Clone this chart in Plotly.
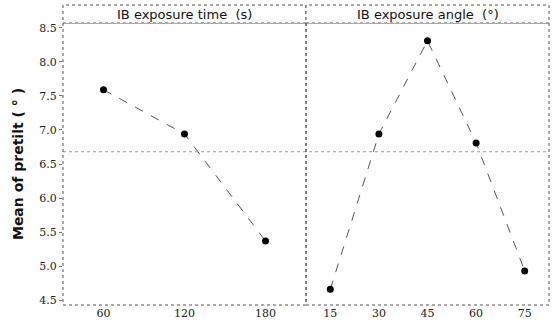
import plotly.graph_objects as go

# Data
time_levels = [60, 120, 180]
time_means = [7.59, 6.94, 5.37]
angle_levels = [15, 30, 45, 60, 75]
angle_means = [4.66, 6.94, 8.31, 6.81, 4.93]
overall_mean = 6.68
panel_titles = ["IB exposure time  (s)", "IB exposure angle  (°)"]
y_ticks = [4.5, 5.0, 5.5, 6.0, 6.5, 7.0, 7.5, 8.0, 8.5]

fig = go.Figure()
line_style = dict(color="#555555", width=1, dash="dash")
marker_style = dict(color="black", size=7)
fig.add_trace(go.Scatter(x=time_levels, y=time_means, mode="lines+markers",
                         line=line_style, marker=marker_style, xaxis="x", yaxis="y",
                         showlegend=False))
fig.add_trace(go.Scatter(x=angle_levels, y=angle_means, mode="lines+markers",
                         line=line_style, marker=marker_style, xaxis="x2", yaxis="y2",
                         showlegend=False))

tick_font = dict(family="DejaVu Serif", size=11, color="#222222")
yr = [4.43, 8.57]
fig.update_layout(
    width=559, height=332,
    margin=dict(l=63, r=10, t=23, b=27),
    paper_bgcolor="white", plot_bgcolor="white",
    xaxis=dict(domain=[0, 0.5], range=[30, 210], tickvals=time_levels,
               showgrid=False, zeroline=False, ticks="", tickfont=tick_font,
               automargin=False),
    xaxis2=dict(domain=[0.5, 1], range=[7.5, 82.5], tickvals=angle_levels,
                showgrid=False, zeroline=False, ticks="", tickfont=tick_font,
                automargin=False),
    yaxis=dict(range=yr, tickvals=y_ticks, tickformat=".1f", showgrid=False,
               zeroline=False, ticks="outside", ticklen=3, tickcolor="#777777",
               tickfont=tick_font, anchor="x", automargin=False,
               title=dict(text="Mean of pretilt ( ° )", standoff=12,
                          font=dict(family="DejaVu Sans", size=14, color="#111111",
                                    weight="bold"))),
    yaxis2=dict(range=yr, showticklabels=False, showgrid=False, zeroline=False,
                anchor="x2", matches="y", automargin=False),
)

# Mean reference line
fig.add_shape(type="line", xref="paper", yref="y", x0=0, x1=1,
              y0=overall_mean, y1=overall_mean,
              line=dict(color="#999999", width=1, dash="dot"))

# Panel borders and strips
strip_h = 18 / 282
for i, (x0, x1) in enumerate([(0, 0.5), (0.5, 1)]):
    fig.add_shape(type="rect", xref="paper", yref="paper", x0=x0, x1=x1, y0=0, y1=1,
                  line=dict(color="#555555", width=1, dash="dot"))
    fig.add_shape(type="rect", xref="paper", yref="paper", x0=x0, x1=x1, y0=1,
                  y1=1 + strip_h, line=dict(color="#555555", width=1, dash="dot"),
                  fillcolor="white")
    fig.add_annotation(xref="paper", yref="paper", x=(x0 + x1) / 2, y=1 + strip_h / 2,
                       xanchor="center", yanchor="middle",
                       text=panel_titles[i], showarrow=False,
                       font=dict(family="DejaVu Sans", size=13, color="#111111"))

fig.write_html("out.html", config={"displayModeBar": False},
               post_script="document.body.style.margin='0';document.body.style.overflow='hidden';")
